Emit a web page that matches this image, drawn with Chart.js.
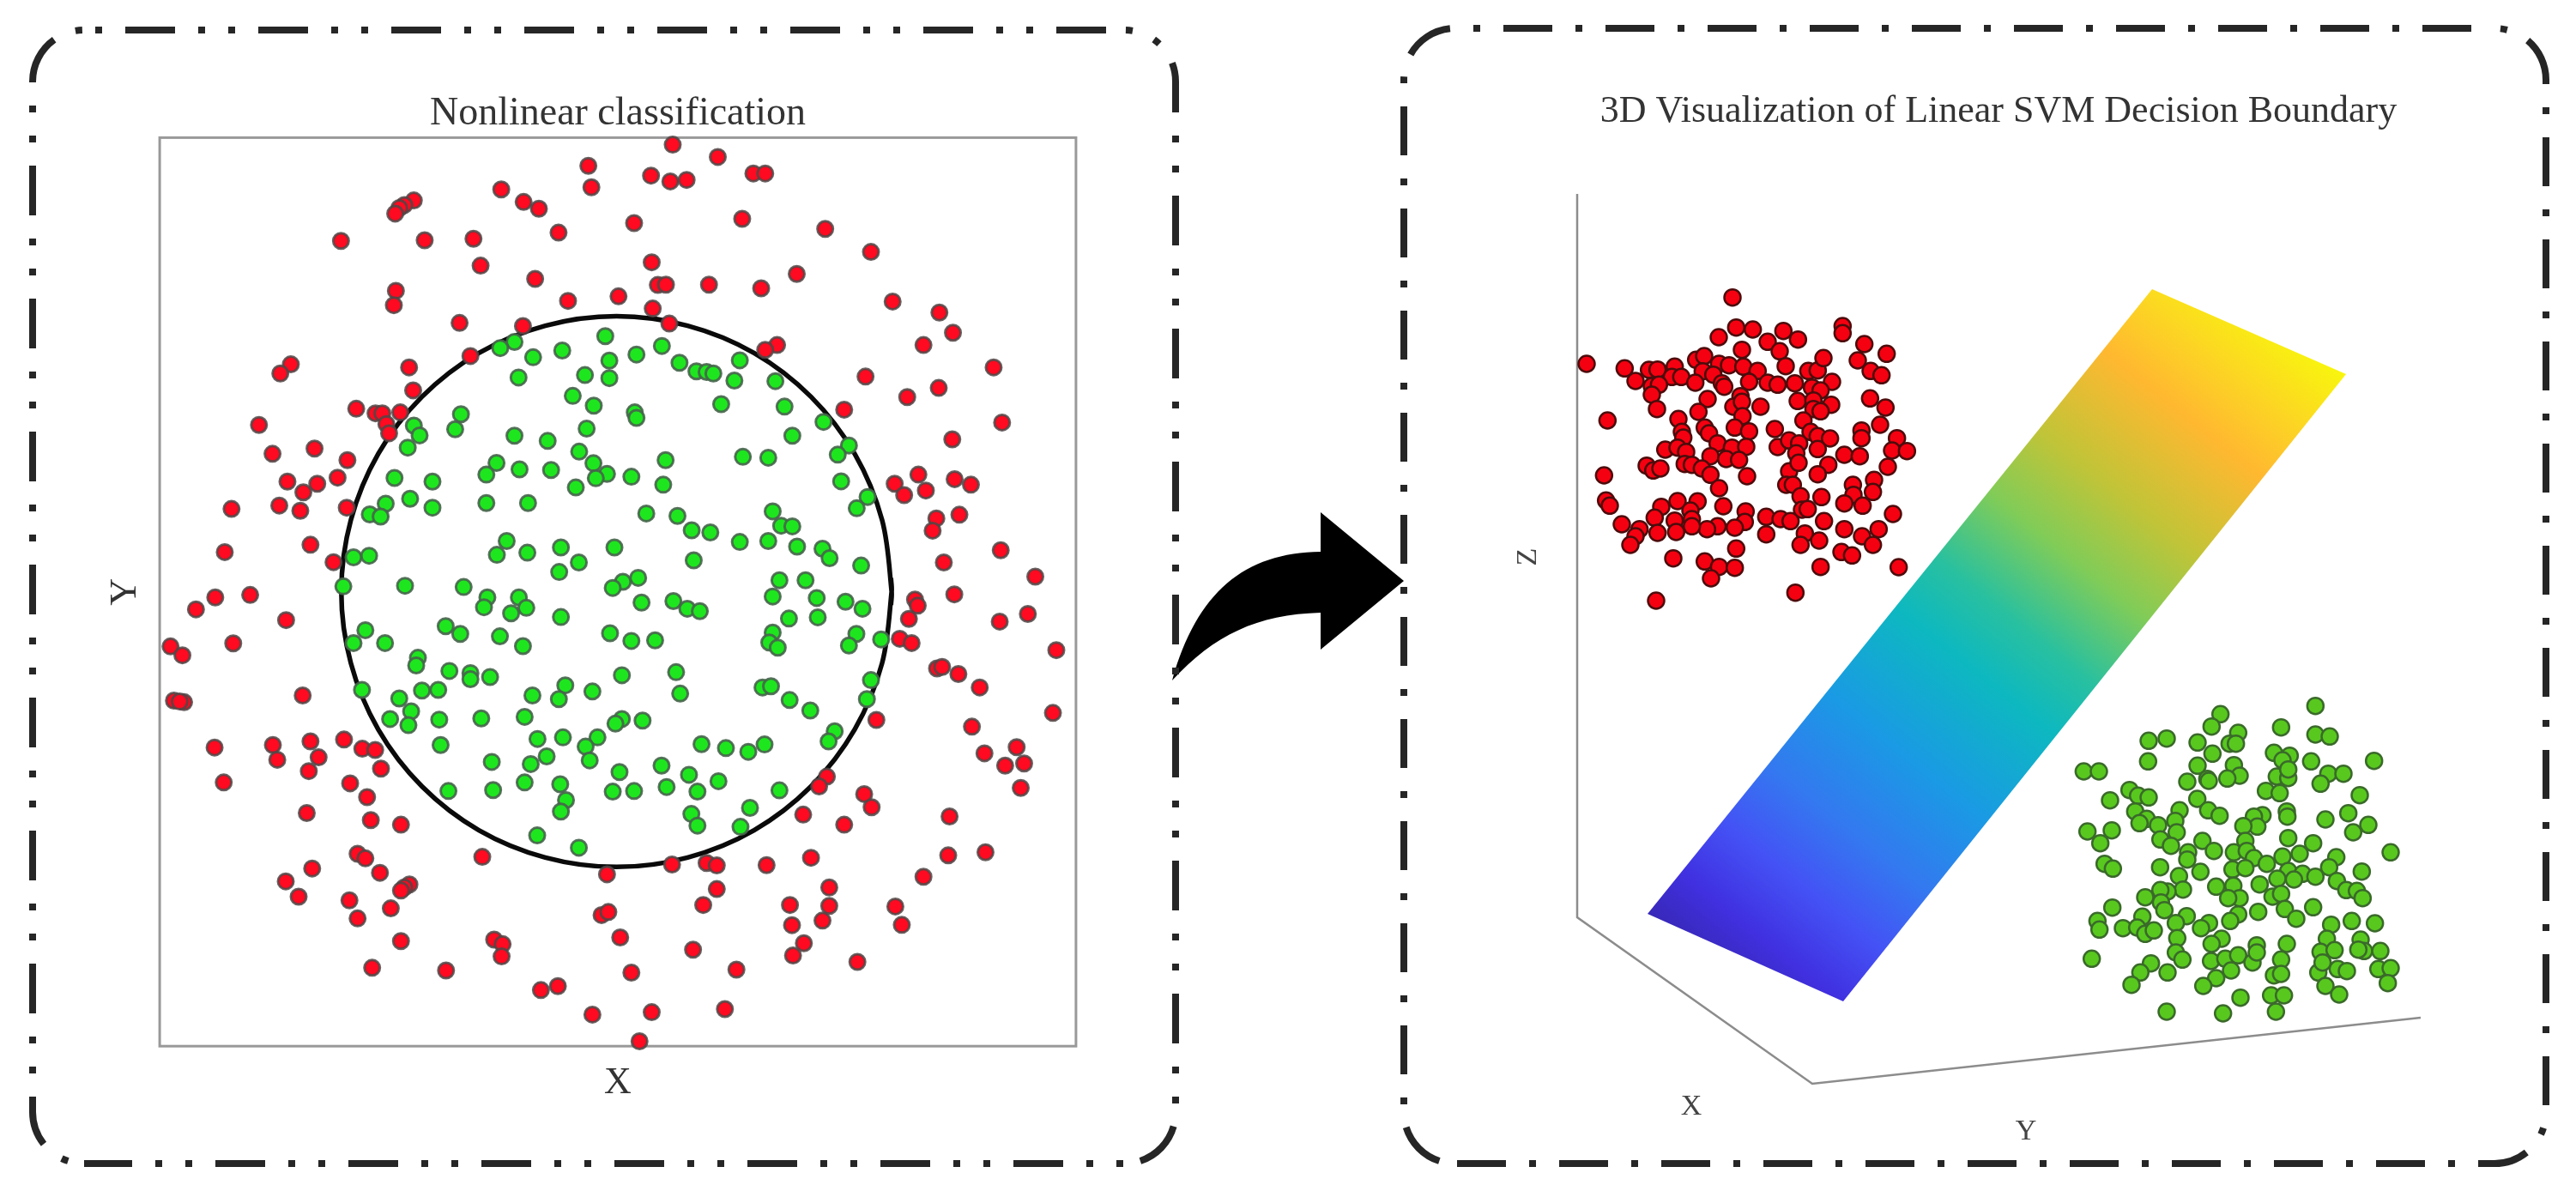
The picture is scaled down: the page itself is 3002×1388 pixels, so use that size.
<!DOCTYPE html>
<html>
<head>
<meta charset="utf-8">
<title>SVM decision boundaries</title>
<script src="https://cdn.jsdelivr.net/npm/chart.js@4"></script>
<style>
html,body{margin:0;padding:0;background:#fff;width:3002px;height:1388px;overflow:hidden}
.panel{position:absolute;top:0;height:1388px}
#leftPanel{left:0;width:1650px}
#rightPanel{left:1600px;width:1402px}
canvas{display:block}
</style>
</head>
<body>
<div class="panel" id="leftPanel"><canvas id="leftChart" width="1650" height="1388"></canvas></div>
<div class="panel" id="rightPanel"><canvas id="rightChart" width="1402" height="1388"></canvas></div>
<script>
// left plot, values (axis units have no meaning in the source)
let leftRed=[[1265,2874],[1450,2842],[1274,2804],[1008,2797],[1074,2756],[1119,2734],[1400,2687],[1177,2656],[750,2761],[722,2746],[707,2736],[695,2718],[535,2629],[782,2631],[926,2636],[947,2548],[1108,2505],[1452,2559],[1470,2485],[1205,2433],[1354,2448],[1455,2408],[697,2466],[691,2419],[885,2361],[1072,2351],[917,2253],[736,2216],[748,2141],[387,2226],[356,2196],[580,2081],[637,2066],[657,2066],[710,2069],[669,2031],[677,2001],[293,2028],[333,1934],[457,1951],[554,1913],[525,1856],[377,1843],[465,1836],[424,1808],[353,1765],[415,1748],[212,1754],[552,1758],[445,1637],[192,1613],[513,1580],
[1514,2943],[1647,2903],[1507,2823],[1555,2828],[1752,2849],[1787,2849],[1719,2701],[1964,2668],[2099,2593],[1880,2521],[1494,2486],[1621,2486],[1775,2474],[2163,2431],[2301,2395],[2341,2329],[2254,2289],[1504,2359],[1822,2289],[1787,2273],[2083,2186],[2461,2216],[2299,2149],[2206,2119],[2020,2078],[2486,2036],[2339,1981],[2239,1866],[2169,1836],[2197,1799],[2261,1814],[2346,1851],[2394,1833],[2292,1723],[2360,1735],[2281,1683],[2482,1619],[2314,1579],[2584,1533],
[164,1465],[267,1473],[107,1426],[373,1391],[217,1315],[32,1305],[67,1276],[42,1128],[72,1123],[59,1125],[422,1145],[162,975],[334,983],[347,935],[445,995],[469,943],[440,898],[544,1001],[598,971],[636,967],[653,906],[562,858],[612,813],[189,861],[434,761],[623,738],[712,723],[584,628],[607,613],[650,566],[952,618],[450,580],[372,538],[410,488],[560,476],[682,450],[584,417],[737,528],[722,518],[712,508],[1320,561],[1304,428],[1324,438],[1359,355],[712,343],[987,348],[1012,333],[1009,293],[627,256],[845,247],[1392,240],[1175,196],[1125,183],[1277,103],
[2345,1475],[2229,1458],[2237,1438],[2211,1395],[2562,1411],[2479,1386],[2184,1330],[2219,1316],[2646,1293],[2294,1233],[2309,1238],[2357,1215],[2420,1171],[2636,1088],[2397,1043],[2115,1065],[2434,956],[2529,976],[2551,923],[2495,916],[2541,843],[1969,880],[1946,848],[2079,823],[2101,780],[1899,756],[2020,723],[2331,750],[2327,623],[2437,633],[2254,553],[1512,593],[1614,598],[1644,590],[1791,591],[1922,615],[1976,518],[1644,513],[1604,461],[1860,461],[1976,458],[2171,456],[1866,395],[1956,410],[2190,396],[1901,336],[1869,296],[1574,315],[2059,275],[1702,250],[1668,121],[1452,111],[1416,16]];

let leftGreen=[[1315,2318],[1407,2258],[1327,2238],[1188,2271],[1102,2249],[1047,2299],[1005,2279],[1059,2183],[1255,2191],[1327,2181],[1219,2123],[1281,2091],[1402,2069],[1407,2051],[1260,2016],[1047,1993],[1145,1976],[889,2063],[872,2014],[750,2026],[767,1994],[732,1954],[1238,1941],[1280,1903],[1320,1868],[1287,1854],[1392,1859],[1228,1824],[1155,1881],[1062,1883],[994,1904],[964,1866],[964,1773],[1087,1773],[693,1855],[805,1843],[739,1787],[805,1758],[667,1771],[620,1736],[652,1729],[1024,1649],[995,1604],[1085,1611],[1184,1628],[1342,1628],[1237,1579],[1179,1548],[572,1596],[618,1601],[1412,1529],[1367,1516],[1337,1496],[724,1503],[897,1499],[542,1501],
[1482,2286],[1534,2231],[1584,2203],[1614,2201],[1634,2196],[1712,2239],[1696,2173],[1817,2171],[1657,2096],[1844,2088],[1959,2038],[1867,1993],[2034,1961],[2001,1931],[1493,1913],[1721,1924],[1796,1921],[2011,1844],[1486,1833],[2089,1793],[2057,1756],[1436,1739],[1528,1731],[1809,1746],[1834,1699],[1867,1697],[1570,1684],[1625,1677],[1712,1646],[1796,1649],[1881,1631],[1956,1624],[1977,1593],[2070,1569],[1576,1586],[1829,1521],[1906,1521],
[967,1465],[957,1433],[1060,1465],[1082,1431],[1037,1413],[1184,1401],[1422,1448],[607,1358],[572,1316],[665,1316],[844,1371],[887,1346],[1004,1338],[1072,1306],[1329,1348],[1392,1323],[762,1268],[757,1243],[855,1225],[917,1218],[917,1198],[975,1205],[597,1163],[707,1135],[774,1161],[822,1163],[742,1093],[680,1068],[734,1048],[825,1066],[949,1070],[1077,1075],[1100,1145],[1197,1178],[1178,1133],[1277,1158],[1364,1211],[829,983],[1115,1003],[1190,1008],[1292,1008],[1257,978],[1269,933],[1364,1068],[1345,1053],[1425,1063],[1142,946],[1095,921],[980,928],[1077,861],[1357,895],[1182,855],[1199,803],[1184,766],[984,836],[852,833],[1337,831],[1400,833],[1114,688],[1237,648],
[1516,1453],[1557,1428],[1594,1420],[1809,1468],[1939,1463],[2024,1451],[2074,1428],[1857,1396],[1942,1400],[1462,1325],[1809,1350],[1799,1318],[1824,1301],[2056,1346],[2034,1308],[2129,1328],[1524,1221],[1536,1151],[2099,1195],[1779,1171],[1804,1175],[1859,1130],[1920,1096],[2087,1133],[1992,1028],[1974,995],[1599,986],[1671,973],[1737,961],[1785,985],[1481,916],[1562,886],[1649,865],[1496,846],[1587,831],[1829,835],[1742,778],[1569,758],[1587,720],[1714,716]];

// the black boundary, walked round once (the ends overlap a little so the curve closes smoothly)
let boundary=[[2158,1440],[2160,1484],[2132,1717],[2051,1934],[1922,2120],[1754,2263],[1558,2352],[1348,2383],[1138,2352],[942,2263],[774,2120],[645,1934],[564,1717],[536,1484],[564,1251],[645,1034],[774,848],[942,705],[1138,616],[1348,585],[1558,616],[1754,705],[1922,848],[2051,1034],[2132,1251],[2160,1484],[2158,1528]];

// right plot, the projected 3D cloud
let rightRed=[[597,80],[610,185],[668,192],[549,219],[775,197],[826,227],[720,235],[982,180],[982,205],[1058,243],[1136,277],[1035,300],[630,263],[762,268],[783,320],[87,312],[220,328],[258,372],[305,333],[335,332],[395,322],[385,358],[418,358],[470,298],[498,285],[493,338],[467,378],[550,312],[585,317],[530,350],[560,380],[568,392],[635,322],[685,337],[655,375],[720,378],[755,385],[815,380],[862,337],[895,335],[915,292],[945,375],[875,395],[905,405],[1080,337],[1118,352],[315,390],[340,385],[315,420],[333,470],[510,435],[478,480],[625,425],[600,462],[630,445],[695,462],[825,442],[880,440],[942,455],[880,470],[905,478],[1078,433],[1132,465],[160,510],[408,505],[632,495],[845,510],[1113,525],[605,535],[655,548],[500,535],[515,555],[420,550],[425,570],[745,540],[870,550],[895,565],[938,573],[1048,545],[1048,572],[1172,572],[1155,615],[1207,617],[362,612],[405,605],[435,620],[545,590],[595,605],[645,602],[520,635],[575,645],[620,648],[755,603],[795,580],[830,590],[820,625],[895,610],[988,630],[1042,635],[297,668],[320,685],[345,678],[430,662],[455,665],[490,678],[520,700],[148,702],[648,705],[795,688],[828,658],[932,665],[895,698],[1140,672],[550,747],[785,735],[808,735],[835,775],[908,778],[1018,735],[1092,718],[1088,760],[1020,770],[988,800],[1052,808],[155,790],[168,808],[348,812],[405,792],[475,793],[565,810],[450,825],[643,828],[840,822],[860,820],[1158,837],[325,850],[395,860],[455,855],[210,873],[272,890],[715,847],[765,855],[800,862],[917,862],[640,865],[605,885],[545,880],[508,890],[455,880],[400,900],[335,903],[258,915],[240,945],[715,908],[850,905],[835,945],[900,930],[988,890],[1050,915],[1108,890],[1088,945],[978,970],[1015,982],[610,958],[390,992],[500,1003],[550,1022],[605,1025],[522,1062],[905,1022],[1178,1023],[817,1112],[330,1140]]
    .map(p=>({x:p[0],y:2940-p[1]}));

let rightGreen=[[895,68],[563,97],[532,140],[775,143],[625,162],[312,190],[375,182],[483,196],[595,200],[617,200],[895,168],[945,175],[535,235],[310,262],[750,232],[805,242],[780,258],[880,262],[1100,260],[85,297],[138,297],[483,277],[610,275],[630,312],[587,322],[517,323],[522,330],[447,333],[760,315],[800,320],[800,290],[940,305],[993,305],[913,340],[722,365],[770,373],[1050,380],[245,362],[275,382],[312,388],[177,398],[482,393],[520,433],[560,452],[420,433],[265,437],[305,463],[280,478],[405,470],[345,485],[410,510],[795,437],[797,455],[1010,443],[930,465],[710,450],[680,455],[692,490],[643,488],[1080,484],[1027,510],[98,507],[183,503],[143,548],[353,535],[390,557],[500,540],[540,575],[800,530],[887,548],[650,540],[610,580],[655,575],[680,600],[840,585],[780,595],[1158,580],[968,597],[943,632],[450,580],[447,605],[158,620],[187,637],[352,632],[493,648],[605,640],[650,635],[725,620],[800,645],[850,655],[895,665],[1057,647],[418,663],[820,675],[762,672],[700,692],[548,700],[608,697],[970,680],[1003,712],[1040,715],[1060,740],[432,710],[378,717],[353,712],[300,737],[355,755],[630,740],[590,740],[745,735],[775,725],[887,772],[185,773],[367,782],[695,788],[788,778],[625,797],[597,820],[828,812],[445,803],[290,805],[133,820],[140,850],[407,827],[222,845],[272,843],[300,865],[330,853],[523,827],[495,845],[950,833],[1022,820],[1103,828],[412,880],[567,882],[795,900],[690,905],[935,882],[1053,885],[532,900],[1065,925],[1045,920],[1122,925],[913,928],[962,922],[407,930],[430,955],[530,960],[580,952],[625,940],[675,965],[690,930],[775,955],[113,952],[320,968],[283,1000],[378,1000],[600,993],[905,1000],[973,988],[1005,995],[1115,988],[1158,985],[750,1010],[775,1005],[548,1020],[503,1047],[252,1043],[930,1047],[978,1077],[1148,1037],[633,1088],[740,1080],[785,1080],[375,1137],[572,1143],[757,1137],[920,965]]
    .map(p=>({x:p[0]+1740,y:1500-p[1]}));

let axisLines=[{x:54,y:3222},{x:54,y:693},{x:876,y:111},{x:3003,y:342}];
let planeCorners=[[2064,2889],[2742,2592],[984,399],[300,705]];
let planeAxis=[[582,477],[2478,2826]];
let planeStops=[[0,"#3828b8"],[0.062,"#4030e0"],[0.138,"#4452f5"],[0.221,"#3478f0"],[0.331,"#1a9ae4"],[0.458,"#0db8c0"],[0.531,"#28c0a0"],[0.628,"#80cc58"],[0.72,"#c0c438"],[0.841,"#ffb830"],[0.909,"#fcd424"],[1,"#f8f80c"]];
let rightAxisNames=[["X",453,30],["Y",1623,-57],["Z",-117,1953]];

const FONT="'Liberation Serif', serif";
const DASH_DOT_DOT=[58,27,8,27,8,27];
const DASH_DOT=[57,27,8,27];

// every side of the frame has its own phase, so it is stroked piece by piece
function drawFrame(ctx,x,y,w,h,r,dashes,offsets){
    let x2=x+w, y2=y+h
    let pieces=[
        p=>{p.moveTo(x+r,y);p.lineTo(x2-r,y)},
        p=>{p.moveTo(x2-r,y);p.arcTo(x2,y,x2,y+r,r);p.lineTo(x2,y2-r);p.arcTo(x2,y2,x2-r,y2,r)},
        p=>{p.moveTo(x2-r,y2);p.lineTo(x+r,y2)},
        p=>{p.moveTo(x+r,y2);p.arcTo(x,y2,x,y2-r,r);p.lineTo(x,y+r);p.arcTo(x,y,x+r,y,r)}
    ]
    ctx.save()
    ctx.strokeStyle="#262626"
    ctx.lineWidth=8
    ctx.setLineDash(dashes)
    pieces.forEach((piece,i)=>{
        ctx.lineDashOffset=offsets[i]
        ctx.beginPath()
        piece(ctx)
        ctx.stroke()
    })
    ctx.restore()
}

function drawArrow(ctx){
    ctx.save()
    ctx.fillStyle="#000"
    ctx.beginPath()
    ctx.moveTo(1366,793)
    ctx.bezierCurveTo(1395,690,1450,644,1539,643)
    ctx.lineTo(1539,597)
    ctx.lineTo(1636,677)
    ctx.lineTo(1539,757)
    ctx.lineTo(1539,714)
    ctx.bezierCurveTo(1465,716,1415,740,1366,793)
    ctx.closePath()
    ctx.fill()
    ctx.restore()
}

const leftDecor={
    id:"leftDecor",
    beforeDatasetsDraw(chart){
        let ctx=chart.ctx, a=chart.chartArea
        drawArrow(ctx)
        drawFrame(ctx,38,35,1332,1321,60,DASH_DOT_DOT,[107,83,84,101])
        ctx.save()
        ctx.strokeStyle="#999"
        ctx.lineWidth=3
        ctx.strokeRect(a.left,a.top,a.right-a.left,a.bottom-a.top)
        ctx.restore()
    }
}

const rightDecor={
    id:"rightDecor",
    beforeDatasetsDraw(chart){
        let ctx=chart.ctx, sx=chart.scales.x, sy=chart.scales.y
        drawFrame(ctx,36,33,1331,1323,60,DASH_DOT,[63,77,38,100])

        let toPx=c=>[sx.getPixelForValue(c[0]),sy.getPixelForValue(c[1])]
        let pts=planeCorners.map(toPx)
        let g0=toPx(planeAxis[0]), g1=toPx(planeAxis[1])
        let grad=ctx.createLinearGradient(g0[0],g0[1],g1[0],g1[1])
        planeStops.forEach(s=>grad.addColorStop(s[0],s[1]))
        ctx.save()
        ctx.fillStyle=grad
        ctx.beginPath()
        pts.forEach((p,i)=>i?ctx.lineTo(p[0],p[1]):ctx.moveTo(p[0],p[1]))
        ctx.closePath()
        ctx.fill()
        ctx.fillStyle="#444"
        ctx.font="34px "+FONT
        ctx.textAlign="center"
        ctx.textBaseline="middle"
        rightAxisNames.forEach(n=>{
            let px=sx.getPixelForValue(n[1]), py=sy.getPixelForValue(n[2])
            ctx.save()
            ctx.translate(px,py)
            if(n[0]==="Z") ctx.rotate(-Math.PI/2)
            ctx.fillText(n[0],0,0)
            ctx.restore()
        })
        ctx.restore()
    }
}

function toPoints(list){
    return list.map(p=>({x:p[0],y:p[1]}))
}

function hiddenScale(min,max){
    return {type:"linear",display:false,min:min,max:max}
}

new Chart("leftChart",{
    type:"scatter",
    data:{
        datasets:[
            {label:"boundary",data:toPoints(boundary),showLine:true,tension:0.34,borderWidth:5.5,borderColor:"#0a0a0a",pointRadius:0,order:3,clip:false},
            {label:"outer",data:toPoints(leftRed),pointRadius:9,pointBorderWidth:3,pointBorderColor:"rgba(80,70,70,0.85)",pointBackgroundColor:"#ff0a20",order:2,clip:false},
            {label:"inner",data:toPoints(leftGreen),pointRadius:9,pointBorderWidth:3,pointBorderColor:"rgba(70,100,75,0.9)",pointBackgroundColor:"#1ee61e",order:1,clip:false}
        ]
    },
    options:{
        responsive:false,
        animation:false,
        layout:{padding:{left:119.6,top:105.2,right:396.1,bottom:99.6}},
        scales:{
            x:{type:"linear",min:0,max:2704,grid:{display:false},border:{display:false},ticks:{display:false},
                title:{display:true,text:"X",color:"#333",font:{family:FONT,size:44},padding:{top:8.4,bottom:0}}},
            y:{type:"linear",min:0,max:2966,grid:{display:false},border:{display:false},ticks:{display:false},
                title:{display:true,text:"Y",color:"#333",font:{family:FONT,size:44},padding:{top:0,bottom:5.7}}}
        },
        plugins:{
            legend:{display:false},
            tooltip:{enabled:false},
            title:{display:true,fullSize:false,text:"Nonlinear classification",color:"#333",font:{family:FONT,size:46,weight:"normal"},padding:{top:0,bottom:0}}
        }
    },
    plugins:[leftDecor]
})

new Chart("rightChart",{
    type:"scatter",
    data:{
        datasets:[
            {label:"axes",data:axisLines,showLine:true,borderColor:"#8c8c8c",borderWidth:2.5,pointRadius:0,order:3,clip:false},
            {label:"class A",data:rightRed,pointRadius:9.5,pointBorderWidth:2.5,pointBorderColor:"#4d0c0c",pointBackgroundColor:"#f50010",order:2,clip:false},
            {label:"class B",data:rightGreen,pointRadius:9.5,pointBorderWidth:2.5,pointBorderColor:"#3a6a2a",pointBackgroundColor:"#58c81e",order:1,clip:false}
        ]
    },
    options:{
        responsive:false,
        animation:false,
        layout:{padding:{left:150,top:103.6,right:94,bottom:88}},
        scales:{x:hiddenScale(-210,3264),y:hiddenScale(0,3300)},
        plugins:{
            legend:{display:false},
            tooltip:{enabled:false},
            title:{display:true,text:"3D Visualization of Linear SVM Decision Boundary",color:"#333",font:{family:FONT,size:44,weight:"normal"},padding:{top:0,bottom:43.6}}
        }
    },
    plugins:[rightDecor]
})
</script>
</body>
</html>
